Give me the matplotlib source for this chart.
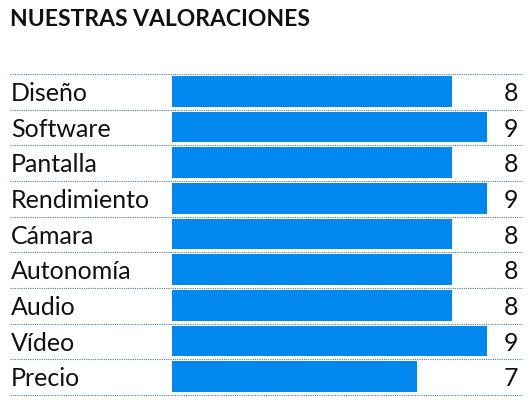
import matplotlib
matplotlib.use("Agg")
import matplotlib.pyplot as plt
from matplotlib.transforms import blended_transform_factory

categories = ["Diseño", "Software", "Pantalla", "Rendimiento", "Cámara", "Autonomía", "Audio", "Vídeo", "Precio"]
values = [8, 9, 8, 9, 8, 8, 8, 9, 7]
title = "NUESTRAS VALORACIONES"

W, H = 531, 402
fig = plt.figure(figsize=(W/100, H/100), dpi=100)
plt.rcParams['font.family'] = ['Lato', 'DejaVu Sans']
top, bottom = 75, 396
ax = fig.add_axes([172/W, 1-bottom/H, 350/W, (bottom-top)/H])
n = len(categories)
ys = [i + 0.06 for i in range(n)]
ax.barh(ys, values, height=0.86, color="#0088EE", align="edge")
ax.set_xlim(0, 10)
ax.set_ylim(n, 0)
ax.axis("off")
for i in range(n + 1):
    yfig = 1 - (top + i*(bottom-top)/n)/H
    fig.add_artist(plt.Line2D([10/W, 522/W], [yfig, yfig], color="#4a7fa8", lw=0.8, ls=(0, (1, 1))))
tr = blended_transform_factory(fig.transFigure, ax.transData)
for i, (c, v) in enumerate(zip(categories, values)):
    ax.text(11/W, i+0.52, c, transform=tr, fontsize=18, va="center", ha="left", color="#111111")
    ax.text(518/W, i+0.52, str(v), transform=tr, fontsize=18, va="center", ha="right", color="#111111")
fig.text(10/W, 1-20/H, title, fontsize=16.5, fontweight="bold", va="center", ha="left", color="#111111")
fig.savefig("out.png", dpi=100, facecolor="white")
